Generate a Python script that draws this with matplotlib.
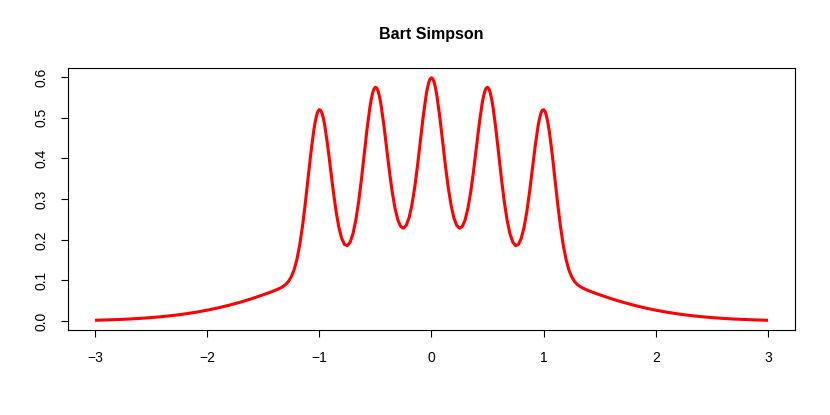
import matplotlib
matplotlib.use("Agg")
from matplotlib import pyplot as plt

# density values (symmetric about 0)
x = [-3.0, -2.9, -2.8, -2.7, -2.6, -2.5, -2.4, -2.3, -2.2, -2.1, -2.0,
     -1.9, -1.8, -1.7, -1.6, -1.5, -1.45,
     -1.4, -1.375, -1.35, -1.325, -1.3, -1.275, -1.25, -1.225, -1.2, -1.175,
     -1.15, -1.125, -1.1, -1.075, -1.05, -1.0375, -1.025, -1.0125, -1.0,
     -0.9875, -0.975, -0.9625, -0.95, -0.925,
     -0.9, -0.875, -0.85, -0.825, -0.8, -0.775, -0.75, -0.725, -0.7, -0.675,
     -0.65, -0.625, -0.6, -0.575, -0.55, -0.5375, -0.525, -0.5125, -0.5,
     -0.4875, -0.475, -0.4625, -0.45, -0.425,
     -0.4, -0.375, -0.35, -0.325, -0.3, -0.275, -0.25, -0.225, -0.2, -0.175,
     -0.15, -0.125, -0.1, -0.075, -0.05, -0.0375, -0.025, -0.0125,
     0.0,
     0.0125, 0.025, 0.0375, 0.05, 0.075, 0.1, 0.125, 0.15, 0.175, 0.2, 0.225, 0.25, 0.275,
     0.3, 0.325, 0.35, 0.375, 0.4, 0.425, 0.45, 0.4625, 0.475, 0.4875, 0.5,
     0.5125, 0.525, 0.5375, 0.55,
     0.575, 0.6, 0.625, 0.65, 0.675, 0.7, 0.725, 0.75, 0.775, 0.8, 0.825,
     0.85, 0.875, 0.9, 0.925, 0.95, 0.9625, 0.975, 0.9875, 1.0,
     1.0125, 1.025, 1.0375, 1.05, 1.075, 1.1,
     1.125, 1.15, 1.175, 1.2, 1.225, 1.25, 1.275, 1.3, 1.325, 1.35, 1.375, 1.4,
     1.45, 1.5, 1.6, 1.7, 1.8, 1.9, 2.0, 2.1, 2.2, 2.3, 2.4, 2.5, 2.6, 2.7,
     2.8, 2.9, 3.0]

dens = [0.0022, 0.0030, 0.0040, 0.0052, 0.0068, 0.0088, 0.0112, 0.0142, 0.0177, 0.0220, 0.0270,
        0.0328, 0.0395, 0.0470, 0.0555, 0.0648, 0.0697,
        0.0750, 0.0779, 0.0811, 0.0850, 0.0901, 0.0976, 0.1089, 0.1259, 0.1511, 0.1863,
        0.2325, 0.2886, 0.3509, 0.4131, 0.4670, 0.4883, 0.5046, 0.5153, 0.5199,
        0.5183, 0.5107, 0.4974, 0.4791, 0.4312,
        0.3752, 0.3190, 0.2694, 0.2302, 0.2033, 0.1886, 0.1856, 0.1942, 0.2146, 0.2471,
        0.2919, 0.3471, 0.4087, 0.4703, 0.5236, 0.5445, 0.5605, 0.5708, 0.5750,
        0.5730, 0.5649, 0.5511, 0.5323, 0.4834,
        0.4263, 0.3689, 0.3180, 0.2775, 0.2491, 0.2329, 0.2284, 0.2353, 0.2539, 0.2848,
        0.3276, 0.3809, 0.4406, 0.5001, 0.5513, 0.5712, 0.5861, 0.5953,
        0.5984,
        0.5953, 0.5861, 0.5712, 0.5513, 0.5001, 0.4406, 0.3809, 0.3276, 0.2848, 0.2539, 0.2353, 0.2284, 0.2329,
        0.2491, 0.2775, 0.3180, 0.3689, 0.4263, 0.4834, 0.5323, 0.5511, 0.5649, 0.5730, 0.5750,
        0.5708, 0.5605, 0.5445, 0.5236,
        0.4703, 0.4087, 0.3471, 0.2919, 0.2471, 0.2146, 0.1942, 0.1856, 0.1886, 0.2033, 0.2302,
        0.2694, 0.3190, 0.3752, 0.4312, 0.4791, 0.4974, 0.5107, 0.5183, 0.5199,
        0.5153, 0.5046, 0.4883, 0.4670, 0.4131, 0.3509,
        0.2886, 0.2325, 0.1863, 0.1511, 0.1259, 0.1089, 0.0976, 0.0901, 0.0850, 0.0811, 0.0779, 0.0750,
        0.0697, 0.0648, 0.0555, 0.0470, 0.0395, 0.0328, 0.0270, 0.0220, 0.0177, 0.0142, 0.0112,
        0.0088, 0.0068, 0.0052, 0.0040, 0.0030, 0.0022]

xticks = [-3, -2, -1, 0, 1, 2, 3]
yticks = [0.0, 0.1, 0.2, 0.3, 0.4, 0.5, 0.6]

plt.rcParams['font.family'] = ['Liberation Sans', 'DejaVu Sans']

fig = plt.figure(figsize=(8.3, 4.15), dpi=100)
ax = fig.add_axes([0.0819, 0.2048, 0.8759, 0.6313])

ax.plot(x, dens, color="red", lw=2.2, solid_joinstyle="round", solid_capstyle="butt")

# R style 4% padding
ax.set_xlim(-3.24, 3.24)
ax.set_ylim(-0.0217, 0.6223)

ax.set_xticks(xticks)
ax.set_xticklabels(["\u22123", "\u22122", "\u22121", "0", "1", "2", "3"])
ax.set_yticks(yticks)
ax.set_yticklabels(["{:.1f}".format(v) for v in yticks], rotation=90, va="center")

ax.tick_params(direction="out", length=5, width=0.8, labelsize=10, pad=9)
ax.tick_params(axis="x", pad=10)
for s in ax.spines.values():
    s.set_linewidth(0.8)

ax.set_title("Bart Simpson", fontsize=11.5, fontweight="bold", pad=21)

fig.savefig("out.png", dpi=100)
